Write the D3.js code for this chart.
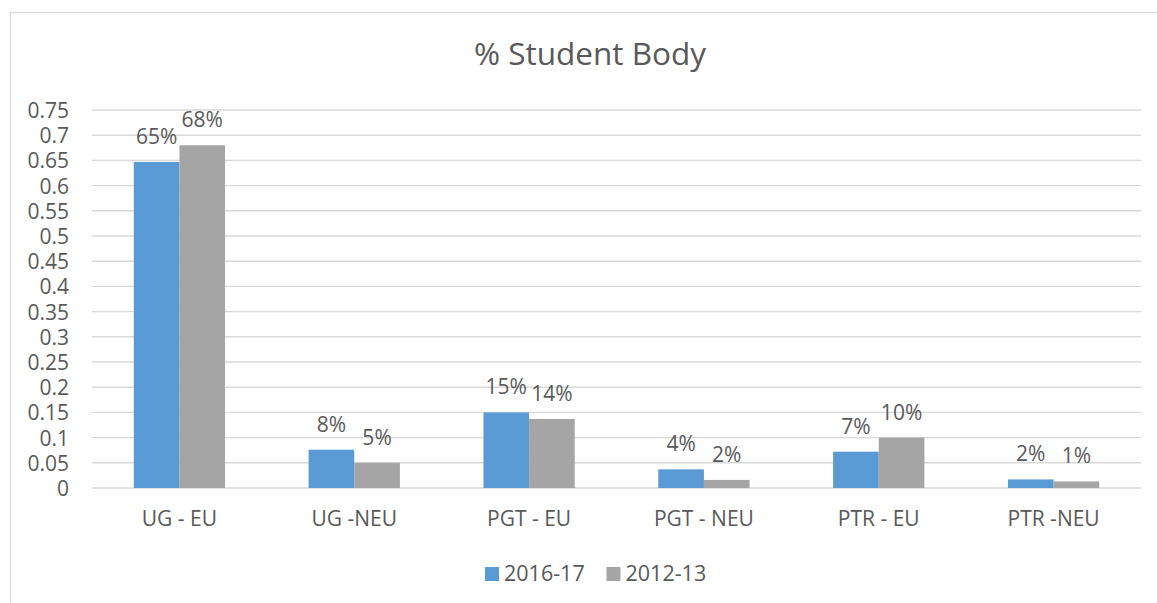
<!DOCTYPE html>
<html>
<head>
<meta charset="utf-8">
<script src="https://cdn.jsdelivr.net/npm/d3@7"></script>
<style>
  html, body { margin: 0; padding: 0; background: #fff; }
  svg text { font-family: "Open Sans", "Noto Sans", sans-serif; fill: #595959; }
</style>
</head>
<body>
<div id="chart"></div>
<script>
// chart data
const categories = ["UG - EU", "UG -NEU", "PGT - EU", "PGT - NEU", "PTR - EU", "PTR -NEU"];
const seriesNames = ["2016-17", "2012-13"];
const values2016 = [0.647, 0.076, 0.150, 0.037, 0.072, 0.017];
const values2012 = [0.680, 0.050, 0.137, 0.016, 0.100, 0.013];
const yTicks = [0, 0.05, 0.1, 0.15, 0.2, 0.25, 0.3, 0.35, 0.4, 0.45, 0.5, 0.55, 0.6, 0.65, 0.7, 0.75];
const colors = ["#5B9BD5", "#A5A5A5"];

const width = 1157;
const height = 603;
const margin = {top: 110, right: 16, bottom: 115, left: 92};

const svg = d3.select("#chart")
  .append("svg")
  .attr("width", width)
  .attr("height", height);

// outer chart frame (cropped on right and bottom)
svg.append("rect")
  .attr("x", 10.5)
  .attr("y", 12.5)
  .attr("width", width)
  .attr("height", height)
  .attr("fill", "none")
  .attr("stroke", "#d9d9d9")
  .attr("stroke-width", 1.3);

svg.append("text")
  .attr("x", 590)
  .attr("y", 65)
  .attr("text-anchor", "middle")
  .style("font-size", "31.5px")
  .text("% Student Body");

const innerW = width - margin.left - margin.right;
const innerH = height - margin.top - margin.bottom;

const g = svg.append("g")
  .attr("transform", `translate(${margin.left},${margin.top})`);

const y = d3.scaleLinear().domain([0, 0.75]).range([innerH, 0]);
const x0 = d3.scaleBand().domain(categories).range([0, innerW]).paddingInner(0.478).paddingOuter(0.239);
const x1 = d3.scaleBand().domain(seriesNames).range([0, x0.bandwidth()]);

// gridlines
g.append("g")
  .selectAll("line")
  .data(yTicks)
  .join("line")
  .attr("x1", 0)
  .attr("x2", innerW)
  .attr("y1", d => y(d))
  .attr("y2", d => y(d))
  .attr("stroke", "#d9d9d9")
  .attr("stroke-width", 1.4);

// y axis labels
const yAxis = g.append("g")
  .attr("transform", "translate(-11,0)")
  .call(d3.axisLeft(y).tickValues(yTicks).tickFormat(d3.format("")).tickSize(0).tickPadding(12));
yAxis.select(".domain").remove();
yAxis.selectAll("text")
  .attr("dy", "0.36em")
  .style("font-size", "21px")
  .attr("fill", "#595959");

// x axis labels
const xAxis = g.append("g")
  .attr("transform", `translate(0,${innerH})`)
  .call(d3.axisBottom(x0).tickSize(0).tickPadding(23));
xAxis.select(".domain").remove();
xAxis.selectAll("text")
  .attr("dy", "0.71em")
  .style("font-size", "21px")
  .attr("fill", "#595959");

const rows = categories.map((c, i) => ({cat: c, vals: [values2016[i], values2012[i]]}));
const pct = d3.format(".0%");

const groups = g.selectAll(".cat")
  .data(rows)
  .join("g")
  .attr("class", "cat")
  .attr("transform", d => `translate(${x0(d.cat)},0)`);

groups.selectAll("rect")
  .data(d => d.vals.map((v, j) => ({s: seriesNames[j], v: v, j: j})))
  .join("rect")
  .attr("x", d => x1(d.s))
  .attr("y", d => y(d.v))
  .attr("width", x1.bandwidth())
  .attr("height", d => innerH - y(d.v))
  .attr("fill", d => colors[d.j]);

groups.selectAll("text.lbl")
  .data(d => d.vals.map((v, j) => ({s: seriesNames[j], v: v, j: j})))
  .join("text")
  .attr("class", "lbl")
  .attr("x", d => x1(d.s) + x1.bandwidth() / 2)
  .attr("y", d => y(d.v) - 18)
  .attr("text-anchor", "middle")
  .style("font-size", "21px")
  .text(d => pct(d.v));

// legend
const legend = svg.append("g").attr("transform", "translate(485,567)");
const legendX = [0, 121.5];
seriesNames.forEach((s, i) => {
  legend.append("rect")
    .attr("x", legendX[i])
    .attr("y", 0)
    .attr("width", 14)
    .attr("height", 14)
    .attr("fill", colors[i]);
  legend.append("text")
    .attr("x", legendX[i] + 19)
    .attr("y", 14)
    .style("font-size", "21.5px")
    .text(s);
});
</script>
</body>
</html>
